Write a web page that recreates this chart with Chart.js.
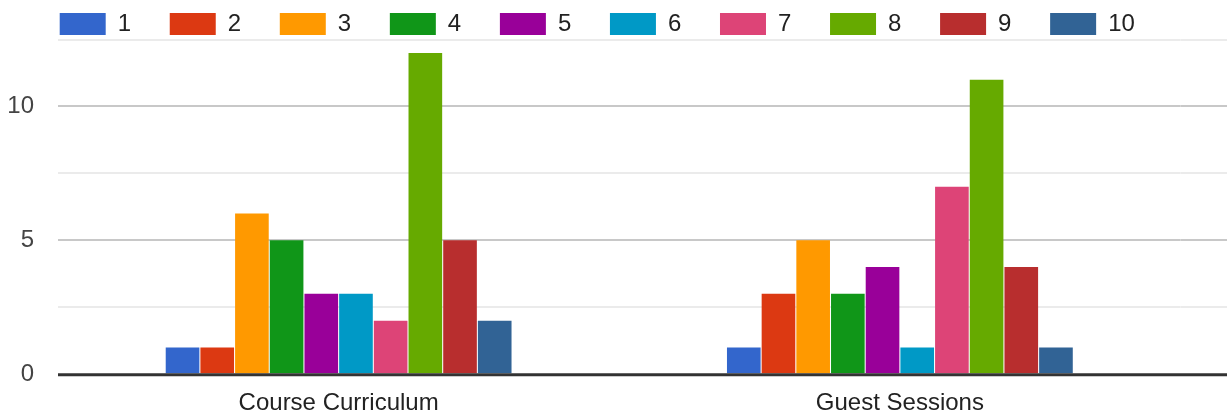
<!DOCTYPE html>
<html>
<head>
<meta charset="utf-8">
<script src="https://cdn.jsdelivr.net/npm/chart.js@4"></script>
<style>
  html, body { margin: 0; padding: 0; background: #fff; }
  #wrap { width: 1227px; height: 416px; position: relative; }
</style>
</head>
<body>
<div id="wrap"><canvas id="c" width="1227" height="416"></canvas></div>
<script>
// ---- data ----
const categories = ['Course Curriculum', 'Guest Sessions'];
const ratings = ['1', '2', '3', '4', '5', '6', '7', '8', '9', '10'];
const courseCurriculum = [1, 1, 6, 5, 3, 3, 2, 12, 5, 2];
const guestSessions = [1, 3, 5, 3, 4, 1, 7, 11, 4, 1];
const palette = ['#3366cc', '#dc3912', '#ff9900', '#109618', '#990099',
                 '#0099c6', '#dd4477', '#66aa00', '#b82e2e', '#316395'];
const yMin = 0, yMax = 12.5, yStep = 2.5, yLabelEvery = 5;

const FONT = '"Liberation Sans", Arial, sans-serif';

const datasets = ratings.map((r, i) => ({
  label: r,
  data: [courseCurriculum[i], guestSessions[i]],
  backgroundColor: palette[i],
  borderWidth: 0,
  barPercentage: 0.97,
  categoryPercentage: 0.618
}));

function gridColor(v) {
  if (v === 0) return 'rgba(0,0,0,0)';
  return (v % yLabelEvery === 0) ? '#c8c8c8' : '#ebebeb';
}

const extendGrid = {
  id: 'extendGrid',
  afterLayout(chart) {
    // let the y tick labels use the space left of the axis box (avoid clipping "10")
    chart.scales.y.left = 0;
  },
  beforeDatasetsDraw(chart) {
    const ctx = chart.ctx, y = chart.scales.y, area = chart.chartArea;
    ctx.save();
    y.ticks.forEach(t => {
      if (t.value === 0) return;
      const py = Math.round(y.getPixelForValue(t.value));
      ctx.strokeStyle = gridColor(t.value);
      ctx.lineWidth = 2;
      ctx.beginPath();
      ctx.moveTo(area.right, py);
      ctx.lineTo(chart.width, py);
      ctx.stroke();
    });
    ctx.restore();
  },
  afterDatasetsDraw(chart) {
    const ctx = chart.ctx, y = chart.scales.y, area = chart.chartArea;
    const py = y.getPixelForValue(0) + 0.5;
    ctx.save();
    ctx.strokeStyle = '#333333';
    ctx.lineWidth = 3;
    ctx.beginPath();
    ctx.moveTo(area.left, py);
    ctx.lineTo(chart.width, py);
    ctx.stroke();
    ctx.restore();
  }
};

new Chart(document.getElementById('c'), {
  type: 'bar',
  data: { labels: categories, datasets },
  plugins: [extendGrid],
  options: {
    responsive: false,
    animation: false,
    layout: { padding: { left: 21, right: 46.5, top: -26.7, bottom: -17 } },
    plugins: {
      legend: {
        position: 'top',
        align: 'start',
        maxHeight: 66.2,
        labels: {
          boxWidth: 46,
          boxHeight: 22,
          padding: 38.7,
          color: '#222222',
          font: { family: FONT, size: 24 }
        }
      },
      tooltip: { enabled: false }
    },
    scales: {
      x: {
        grid: { display: false, drawTicks: false },
        border: { display: false },
        ticks: { color: '#222222', padding: 15, font: { family: FONT, size: 24 } }
      },
      y: {
        min: yMin,
        max: yMax,
        afterFit(scale) { scale.width = 37; },
        border: { display: false },
        grid: {
          drawTicks: false,
          lineWidth: 2,
          color: ctx => gridColor(ctx.tick.value)
        },
        ticks: {
          stepSize: yStep,
          padding: 24,
          color: '#444444',
          font: { family: FONT, size: 24 },
          callback: v => (v % yLabelEvery === 0 ? String(v) : '')
        }
      }
    }
  }
});
</script>
</body>
</html>
